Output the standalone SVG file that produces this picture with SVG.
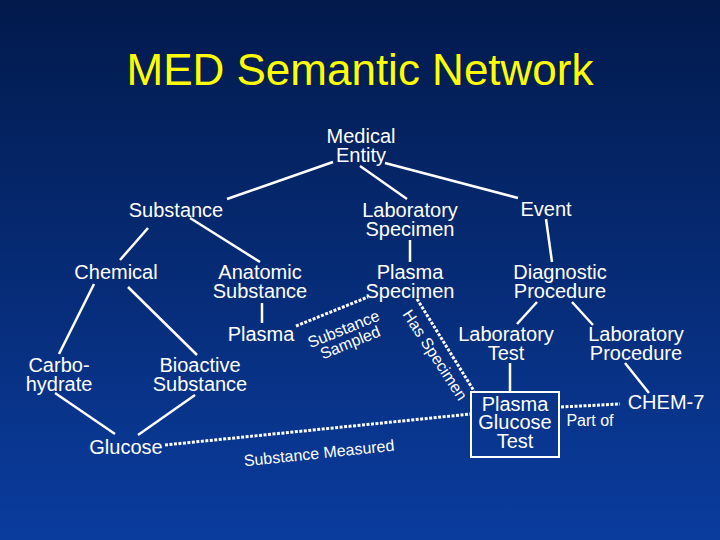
<svg xmlns="http://www.w3.org/2000/svg" width="720" height="540" viewBox="0 0 720 540">
<defs>
<linearGradient id="bg" x1="0" y1="0" x2="0" y2="1">
<stop offset="0" stop-color="#021a4c"/>
<stop offset="1" stop-color="#0a3c9e"/>
</linearGradient>
<style>
.t{font-family:"Liberation Sans",Arial,sans-serif;font-size:20px;fill:#ffffff;text-anchor:middle}
.s{font-family:"Liberation Sans",Arial,sans-serif;font-size:16px;fill:#ffffff;text-anchor:middle}
.ln{stroke:#ffffff;stroke-width:2.5;fill:none}
.dt{stroke:#ffffff;stroke-width:3;stroke-dasharray:3 1.5;fill:none}
</style>
</defs>
<rect width="720" height="540" fill="url(#bg)"/>
<text x="360" y="85" font-family="Liberation Sans,Arial,sans-serif" font-size="44" fill="#ffff00" text-anchor="middle">MED Semantic Network</text>

<g id="connectors">
<line class="ln" x1="333" y1="162" x2="227" y2="199"/>
<line class="ln" x1="360" y1="166" x2="407" y2="199"/>
<line class="ln" x1="385" y1="163" x2="518" y2="198"/>
<line class="ln" x1="148" y1="228" x2="120" y2="260"/>
<line class="ln" x1="190" y1="218" x2="260" y2="262"/>
<line class="ln" x1="410" y1="240" x2="410" y2="262"/>
<line class="ln" x1="546" y1="219" x2="552" y2="262"/>
<line class="ln" x1="537" y1="302" x2="517" y2="324"/>
<line class="ln" x1="572" y1="302" x2="593" y2="325"/>
<line class="ln" x1="510" y1="363" x2="510" y2="392"/>
<line class="ln" x1="625" y1="363" x2="649" y2="393"/>
<line class="ln" x1="262" y1="303" x2="262" y2="323"/>
<line class="ln" x1="94" y1="284" x2="59" y2="354"/>
<line class="ln" x1="128" y1="287" x2="197" y2="355"/>
<line class="ln" x1="55" y1="393" x2="115" y2="434"/>
<line class="ln" x1="195" y1="395" x2="138" y2="435"/>
<line class="dt" x1="296" y1="326" x2="368" y2="297"/>
<line class="dt" x1="417" y1="299" x2="474" y2="391"/>
<line class="dt" x1="165" y1="445" x2="471" y2="414"/>
<line class="dt" x1="561" y1="407" x2="620" y2="404"/>
<g transform="translate(346 335) rotate(-22)">
<text class="s" x="0" y="-1">Substance</text>
<text class="s" x="1" y="14">Sampled</text>
</g>
<text class="s" transform="translate(435 355) rotate(57)" x="0" y="5.5">Has Specimen</text>
<text class="s" transform="translate(319 453) rotate(-6)" x="0" y="5.5">Substance Measured</text>
<text class="s" x="590" y="426">Part of</text>
</g>

<g id="medical-entity"><text class="t" x="361" y="143">Medical</text><text class="t" x="361" y="162">Entity</text></g>
<g id="substance"><text class="t" x="176" y="217">Substance</text></g>
<g id="laboratory-specimen"><text class="t" x="410" y="217">Laboratory</text><text class="t" x="410" y="236">Specimen</text></g>
<g id="event"><text class="t" x="546" y="216">Event</text></g>
<g id="chemical"><text class="t" x="116" y="279">Chemical</text></g>
<g id="anatomic-substance"><text class="t" x="260" y="279">Anatomic</text><text class="t" x="260" y="298">Substance</text></g>
<g id="plasma-specimen"><text class="t" x="410" y="279">Plasma</text><text class="t" x="410" y="298">Specimen</text></g>
<g id="diagnostic-procedure"><text class="t" x="560" y="279">Diagnostic</text><text class="t" x="560" y="298">Procedure</text></g>
<g id="plasma"><text class="t" x="261" y="341">Plasma</text></g>
<g id="laboratory-test"><text class="t" x="506" y="341">Laboratory</text><text class="t" x="506" y="360">Test</text></g>
<g id="laboratory-procedure"><text class="t" x="636" y="341">Laboratory</text><text class="t" x="636" y="360">Procedure</text></g>
<g id="carbohydrate"><text class="t" x="59" y="372">Carbo-</text><text class="t" x="59" y="391">hydrate</text></g>
<g id="bioactive-substance"><text class="t" x="200" y="372">Bioactive</text><text class="t" x="200" y="391">Substance</text></g>
<g id="glucose"><text class="t" x="126" y="454">Glucose</text></g>
<g id="plasma-glucose-test"><rect x="471" y="392" width="88" height="65" fill="none" stroke="#ffffff" stroke-width="2"/><text class="t" x="515" y="411">Plasma</text><text class="t" x="515" y="429">Glucose</text><text class="t" x="515" y="448">Test</text></g>
<g id="chem-7"><text class="t" x="666" y="409">CHEM-7</text></g>
</svg>
